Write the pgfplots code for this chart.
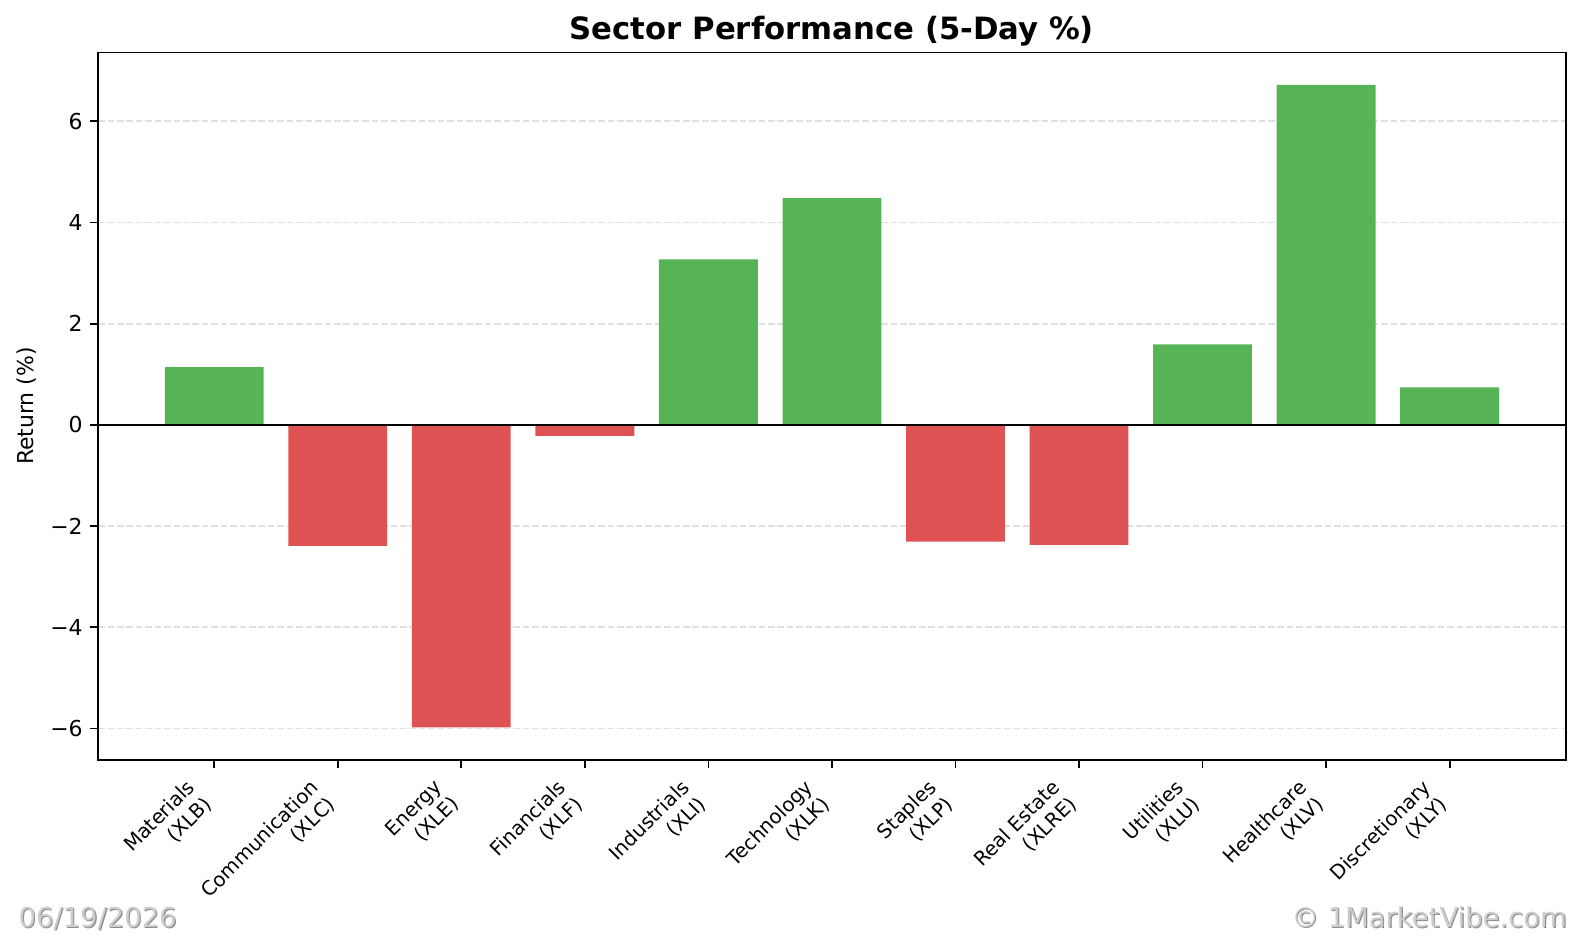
\documentclass[border=0pt]{standalone}
\usepackage{fontspec}
\setmainfont{DejaVu Sans}
\usepackage{pgfplots}
\pgfplotsset{compat=1.18}
\definecolor{gbar}{RGB}{86,179,86}
\definecolor{rbar}{RGB}{222,82,83}
\definecolor{gridc}{RGB}{224,224,224}
\definecolor{wm}{RGB}{205,205,205}
\definecolor{wmsh}{RGB}{140,140,140}
\begin{document}
\begin{tikzpicture}
\useasboundingbox (-44.7pt,-80.7pt) rectangle (676.3pt,346.3pt);
\begin{axis}[
  at={(0,0)}, anchor=south west,
  scale only axis,
  width=668.9pt, height=322.4pt,
  xmin=-0.94, xmax=10.94,
  ymin=-6.62, ymax=7.36,
  axis line style={line width=0.8pt},
  tick style={line width=0.8pt, black},
  tick align=outside,
  major tick length=3.5pt,
  xtick pos=bottom, ytick pos=left,
  xtick={0,1,2,3,4,5,6,7,8,9,10},
  xticklabels={Materials\\(XLB),Communication\\(XLC),Energy\\(XLE),Financials\\(XLF),Industrials\\(XLI),Technology\\(XLK),Staples\\(XLP),Real Estate\\(XLRE),Utilities\\(XLU),Healthcare\\(XLV),Discretionary\\(XLY)},
  xticklabel style={rotate=45, anchor=north east, align=right, inner sep=0pt,
     font=\fontsize{9}{10.8}\selectfont, xshift=-12.5pt, yshift=6pt},
  ytick={-6,-4,-2,0,2,4,6},
  yticklabels={−6,−4,−2,0,2,4,6},
  yticklabel style={font=\fontsize{10}{12}\selectfont},
  ymajorgrids,
  grid style={gridc, line width=0.8pt, dash pattern=on 3pt off 1.3pt},
  title={Sector Performance (5-Day \%)},
  title style={font=\fontsize{14}{16}\selectfont\bfseries, at={(axis description cs:0.5,1)}, anchor=base, yshift=0pt},
  ylabel={Return (\%)},
  ylabel style={font=\fontsize{10}{12}\selectfont, at={(axis description cs:-0.0489,0.5)}, anchor=center},
  ybar, bar width=0.8,
]
\addplot[ybar, bar shift=0pt, fill=gbar, draw=none] coordinates {
  (0,1.14) (4,3.27) (5,4.48) (8,1.59) (9,6.72) (10,0.74)
};
\addplot[ybar, bar shift=0pt, fill=rbar, draw=none] coordinates {
  (1,-2.39) (2,-5.98) (3,-0.22) (6,-2.31) (7,-2.37)
};
\draw[black, line width=0.8pt] (axis cs:-0.94,0) -- (axis cs:10.94,0);
\end{axis}
\node[anchor=base west, text=wmsh, font=\fontsize{12.5}{14}\selectfont, inner sep=0pt] at (-35.9pt,-77.1pt) {06/19/2026};
\node[anchor=base west, text=wm, font=\fontsize{12.5}{14}\selectfont, inner sep=0pt] at (-36.4pt,-76.6pt) {06/19/2026};
\node[anchor=base east, text=wmsh, font=\fontsize{12.5}{14}\selectfont, inner sep=0pt] at (670.1pt,-77.1pt) {© 1MarketVibe.com};
\node[anchor=base east, text=wm, font=\fontsize{12.5}{14}\selectfont, inner sep=0pt] at (669.6pt,-76.6pt) {© 1MarketVibe.com};
\end{tikzpicture}
\end{document}
